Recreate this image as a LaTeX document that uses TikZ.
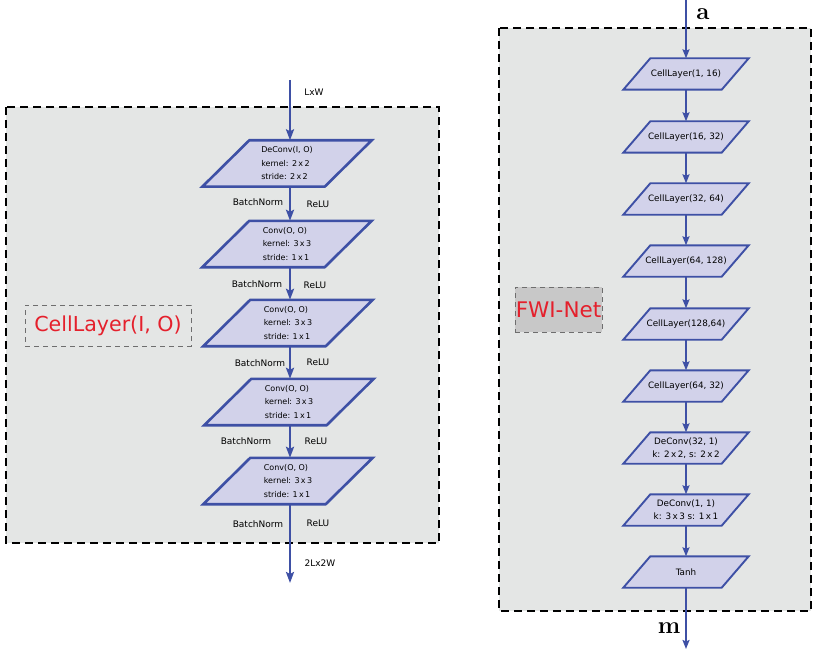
\documentclass[tikz,border=0pt]{standalone}
\usepackage{fontspec}
\newfontfamily\dv{DejaVu Sans}
\usetikzlibrary{arrows.meta}
\pgfdeclarelayer{background}
\pgfsetlayers{background,main}
\definecolor{bgray}{RGB}{228,230,229}
\definecolor{pfill}{RGB}{210,210,234}
\definecolor{pblue}{RGB}{62,80,165}
\definecolor{lred}{RGB}{228,32,44}
\definecolor{fgray}{RGB}{200,200,200}
\definecolor{dgray}{RGB}{110,110,110}
\begin{document}
\begin{tikzpicture}[x=1pt,y=-1pt,
  panel/.style={fill=bgray, draw=black, line width=1.8pt, dash pattern=on 8pt off 5pt},
  lpar/.style={rectangle, minimum width=122pt, minimum height=46pt, inner sep=0pt,
    font=\dv\fontsize{8}{13.5}\selectfont, align=left},
  rpar/.style={rectangle, minimum width=98pt, minimum height=31pt, inner sep=0pt,
    font=\dv\fontsize{8.8}{13}\selectfont, align=center},
  lshape/.style={draw=pblue, fill=pfill, line width=2.6pt, line join=miter},
  rshape/.style={draw=pblue, fill=pfill, line width=1.9pt, line join=miter},
  larr/.style={draw=pblue, line width=2.6pt, -{Stealth[length=11pt,width=8pt,inset=2pt]}},
  rarr/.style={draw=pblue, line width=1.7pt, -{Stealth[length=9pt,width=7pt,inset=1.5pt]}},
  lab/.style={font=\dv\fontsize{9}{10}\selectfont, inner sep=0pt},
  tag/.style={draw=dgray, line width=1pt, dash pattern=on 5pt off 4pt, text=lred, inner sep=0pt},
  big/.style={font=\fontsize{24}{28}\selectfont\bfseries, inner sep=0pt}
]
\useasboundingbox (0,0) rectangle (817,650);

% ---------- left: CellLayer ----------
\node[tag, minimum width=166pt, minimum height=41pt, font=\dv\fontsize{20.6}{24}\selectfont] (cl) at (108,325.5) {CellLayer(I, O)};

\coordinate (ax) at (290,0);
\coordinate (lin) at (290,80);
\coordinate (lout) at (290,583);
\node[lpar] (l1) at (287,163.5) {DeConv(I, O)\\kernel: 2\,x\,2\\stride: 2\,x\,2};
\node[lpar] (l2) at (287,244) {Conv(O, O)\\kernel: 3\,x\,3\\stride: 1\,x\,1};
\node[lpar] (l3) at (288,323) {Conv(O, O)\\kernel: 3\,x\,3\\stride: 1\,x\,1};
\node[lpar] (l4) at (289,402) {Conv(O, O)\\kernel: 3\,x\,3\\stride: 1\,x\,1};
\node[lpar] (l5) at (288,481) {Conv(O, O)\\kernel: 3\,x\,3\\stride: 1\,x\,1};

\draw[larr] (lin) -- (l1.north -| ax);
\draw[larr] (l1.south -| ax) -- (l2.north -| ax);
\draw[larr] (l2.south -| ax) -- (l3.north -| ax);
\draw[larr] (l3.south -| ax) -- (l4.north -| ax);
\draw[larr] (l4.south -| ax) -- (l5.north -| ax);
\draw[larr] (l5.south -| ax) -- (lout);

\node[lab] (t1) at (314,92) {LxW};
\node[lab] (b1) at (258,202) {BatchNorm};
\node[lab] (r1) at (318,204) {ReLU};
\node[lab] (b2) at (257,284) {BatchNorm};
\node[lab] (r2) at (315,285) {ReLU};
\node[lab] (b3) at (260,363) {BatchNorm};
\node[lab] (r3) at (318,362) {ReLU};
\node[lab] (b4) at (246,441) {BatchNorm};
\node[lab] (r4) at (316,441) {ReLU};
\node[lab] (b5) at (258,524) {BatchNorm};
\node[lab] (r5) at (318,523) {ReLU};
\node[lab] (t2) at (320,563) {2Lx2W};

% ---------- right: FWI-Net ----------
\node[tag, fill=fgray, minimum width=87pt, minimum height=45pt, font=\dv\fontsize{21.5}{24}\selectfont] (fwi) at (558.5,309.5) {FWI-Net};

\coordinate (rin) at (686,0);
\coordinate (rout) at (686,649);
\node[rpar] (c1) at (686,74) {CellLayer(1, 16)};
\node[rpar] (c2) at (686,137) {CellLayer(16, 32)};
\node[rpar] (c3) at (686,199) {CellLayer(32, 64)};
\node[rpar] (c4) at (686,261) {CellLayer(64, 128)};
\node[rpar] (c5) at (686,324) {CellLayer(128,64)};
\node[rpar] (c6) at (686,386) {CellLayer(64, 32)};
\node[rpar] (c7) at (686,448) {DeConv(32, 1)\\k: 2\,x\,2, s: 2\,x\,2};
\node[rpar] (c8) at (686,510) {DeConv(1, 1)\\k: 3\,x\,3 s: 1\,x\,1};
\node[rpar] (c9) at (686,572) {Tanh};

\draw[rarr] (rin) -- (c1.north);
\draw[rarr] (c1) -- (c2);
\draw[rarr] (c2) -- (c3);
\draw[rarr] (c3) -- (c4);
\draw[rarr] (c4) -- (c5);
\draw[rarr] (c5) -- (c6);
\draw[rarr] (c6) -- (c7);
\draw[rarr] (c7) -- (c8);
\draw[rarr] (c8) -- (c9);
\draw[rarr] (c9.south) -- (rout);

\node[big] (la) at (703,14) {a};
\node[big] (lm) at (669,628) {m};

% ---------- backgrounds: panels and parallelograms ----------
\begin{pgfonlayer}{background}
\draw[panel] (6,107) rectangle (439,543);
\draw[panel] (499,28) rectangle (811,611);
\foreach \n in {l1,l2,l3,l4,l5}
  \filldraw[lshape] ([xshift=23.5pt]\n.north west) -- ([xshift=23.5pt]\n.north east)
    -- ([xshift=-23.5pt]\n.south east) -- ([xshift=-23.5pt]\n.south west) -- cycle;
\foreach \n in {c1,c2,c3,c4,c5,c6,c7,c8,c9}
  \filldraw[rshape] ([xshift=13.5pt]\n.north west) -- ([xshift=13.5pt]\n.north east)
    -- ([xshift=-13.5pt]\n.south east) -- ([xshift=-13.5pt]\n.south west) -- cycle;
\end{pgfonlayer}
\end{tikzpicture}
\end{document}
